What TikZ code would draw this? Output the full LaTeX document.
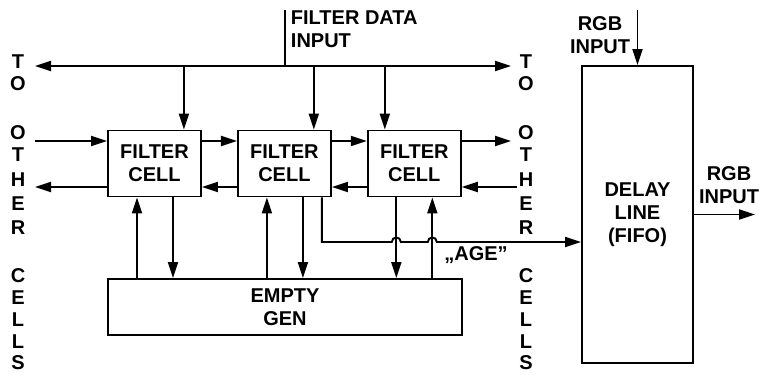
\documentclass[tikz,border=0pt]{standalone}
\usepackage{fontspec}
\setmainfont{Liberation Sans}
\usetikzlibrary{positioning, arrows.meta}

\begin{document}
\begin{tikzpicture}[x=1pt,y=-1pt,line width=1.9pt,
  >={Triangle[length=16pt,width=10pt]},node distance=35pt,
  every node/.style={font=\bfseries\fontsize{20}{23}\selectfont,inner sep=0pt},
  cellbox/.style={draw,minimum width=93pt,minimum height=66pt,align=center}]
  \useasboundingbox (0,0) rectangle (760,375);
  \node[cellbox] (C1) at (154.5,163.5) {FILTER\\CELL};
  \node[cellbox, right=of C1] (C2) {FILTER\\CELL};
  \node[cellbox, right=of C2] (C3) {FILTER\\CELL};
  \node[cellbox,minimum width=354pt,minimum height=56pt] (G) at (285,307) {EMPTY\\GEN};
  \node[cellbox,minimum width=111pt,minimum height=297pt] (D) at (637.5,214.5) {DELAY\\LINE\\(FIFO)};
  \node[anchor=north west,align=left] (fdi) at (290,10) {FILTER DATA\\INPUT};
  \node[align=center] (rgbi) at (600,35) {RGB\\INPUT};
  \node[align=center] (rgbo) at (729,185) {RGB\\INPUT};
  \node (age) at (476,255) {„AGE”};
  \foreach \ch/\yy [count=\i] in {T/62,O/84,O/133,T/155,H/180,E/204,R/228,C/276,E/298,L/320,L/342,S/363} {
    \node (lt\i) at (18,\yy) {\ch};
    \node (rt\i) at (526,\yy) {\ch};
  }
  % data bus
  \coordinate (BL) at (35,66);
  \coordinate (BR) at (511,66);
  \coordinate (FD) at (285,10);
  \draw[<->] (BL) -- (BR);
  \draw (FD) -- (FD |- BL);
  \draw[->] ([xshift=-18pt]C1.north east |- BL) -- ([xshift=-18pt]C1.north east);
  \draw[->] ([xshift=-18pt]C2.north east |- BL) -- ([xshift=-18pt]C2.north east);
  \draw[->] ([xshift=18pt]C3.north west |- BL) -- ([xshift=18pt]C3.north west);
  % chain between cells
  \coordinate (LU) at (35,141);
  \coordinate (LD) at (35,187);
  \coordinate (RU) at (511,141);
  \coordinate (RD) at (517,187);
  \draw[->] (LU) -- (LU -| C1.west);
  \draw[->] (LU -| C1.east) -- (LU -| C2.west);
  \draw[->] (LU -| C2.east) -- (LU -| C3.west);
  \draw[->] (RU -| C3.east) -- (RU);
  \draw[->] (RD) -- (RD -| C3.east);
  \draw[->] (LD -| C3.west) -- (LD -| C2.east);
  \draw[->] (LD -| C2.west) -- (LD -| C1.east);
  \draw[->] (LD -| C1.west) -- (LD);
  % cells and empty gen
  \foreach \c in {C1,C2} {
    \draw[->] ([xshift=-17.5pt]\c.south |- G.north) -- ([xshift=-17.5pt]\c.south);
    \draw[->] ([xshift=18.5pt]\c.south) -- ([xshift=18.5pt]\c.south |- G.north);
  }
  \coordinate (d3) at ([xshift=-18pt]C3.south);
  \coordinate (u3) at ([xshift=18pt]C3.south);
  \draw[->] (d3) -- (d3 |- G.north);
  \draw[->] (u3 |- G.north) -- (u3);
  % age line
  \coordinate (A) at ([xshift=37.5pt]C2.south |- 0,242);
  \draw[->] ([xshift=37.5pt]C2.south) -- (A)
    -- ([xshift=-4.5pt]d3 |- A) .. controls +(0,-6) and +(0,-6) .. ([xshift=4.5pt]d3 |- A)
    -- ([xshift=-4.5pt]u3 |- A) .. controls +(0,-6) and +(0,-6) .. ([xshift=4.5pt]u3 |- A)
    -- (A -| D.west);
  % rgb
  \coordinate (RI) at (637.5,10);
  \coordinate (RO) at (755,214.5);
  \draw[->] (RI) -- (D.north);
  \draw[->] (D.east) -- (RO);
\end{tikzpicture}
\end{document}
